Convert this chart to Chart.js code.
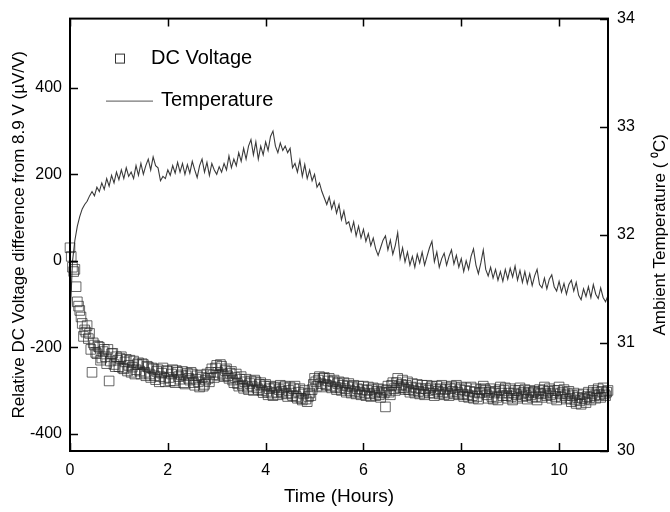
<!DOCTYPE html>
<html>
<head>
<meta charset="utf-8">
<script src="https://cdn.jsdelivr.net/npm/chart.js@4.4.1/dist/chart.umd.min.js"></script>
<style>
  html, body { margin: 0; padding: 0; background: #fff; }
  #chart { display: block; }
</style>
</head>
<body>
<canvas id="chart" width="670" height="512"></canvas>
<script>
// samples every 0.05 h, 0 .. 11 h
const step = 0.05;

// DC voltage, µV/V relative to 8.9 V, at 0, 0.05, 0.10 ... h
const voltage = [
  30, -15, -20, -95, -115, -145, -160, -150, -168, -258,
  -195, -215, -200, -225, -205, -238, -278, -215, -240, -222,
  -245, -222, -250, -228, -242, -258, -232, -252, -236, -262,
  -240, -266, -246, -270, -250, -275, -252, -268, -248, -280,
  -256, -278, -252, -282, -258, -274, -256, -285, -260, -276,
  -262, -288, -266, -292, -270, -286, -262, -280, -250, -270,
  -242, -265, -244, -268, -250, -272, -256, -282, -262, -290,
  -268, -295, -274, -298, -278, -300, -280, -298, -282, -305,
  -286, -310, -290, -312, -292, -310, -288, -306, -290, -314,
  -292, -312, -290, -318, -296, -322, -300, -326, -306, -298,
  -272, -290, -268, -292, -270, -288, -272, -294, -276, -298,
  -280, -300, -282, -304, -284, -306, -288, -308, -290, -310,
  -290, -312, -292, -314, -294, -312, -296, -316, -298, -338,
  -290, -310, -282, -300, -272, -294, -276, -298, -280, -304,
  -284, -306, -286, -308, -288, -310, -288, -306, -290, -312,
  -290, -308, -288, -310, -292, -312, -290, -308, -288, -310,
  -292, -314, -294, -316, -292, -318, -296, -320, -298, -290,
  -300, -318, -296, -320, -302, -322, -292, -312, -294, -318,
  -296, -322, -300, -318, -294, -314, -298, -320, -300, -316,
  -302, -322, -298, -316, -292, -312, -296, -318, -300, -322,
  -292, -316, -298, -320, -302, -326, -306, -330, -310, -332,
  -308, -328, -304, -322, -300, -318, -296, -316, -294, -312,
  -300
];

// DC voltage at the in-between samples 0.025, 0.075 ... h
const voltageMid = [
  10, -25, -60, -105, -130, -175, -165, -180, -205, -190,
  -212, -198, -230, -210, -222, -205, -232, -214, -245, -230,
  -226, -248, -234, -255, -230, -246, -262, -240, -255, -238,
  -258, -244, -262, -248, -266, -256, -280, -260, -272, -254,
  -270, -262, -278, -254, -268, -264, -282, -266, -272, -258,
  -282, -274, -280, -264, -290, -276, -272, -258, -264, -248,
  -258, -240, -262, -254, -266, -260, -276, -270, -284, -274,
  -288, -280, -292, -284, -290, -276, -294, -286, -300, -290,
  -302, -296, -306, -294, -304, -298, -302, -294, -308, -300,
  -306, -296, -314, -304, -318, -308, -320, -314, -312, -286,
  -280, -276, -284, -272, -286, -278, -290, -280, -292, -284,
  -294, -288, -296, -290, -300, -292, -302, -296, -304, -298,
  -306, -300, -308, -298, -306, -302, -310, -304, -306, -300,
  -304, -288, -296, -282, -290, -286, -294, -288, -298, -292,
  -300, -294, -302, -296, -304, -296, -300, -294, -306, -298,
  -302, -296, -304, -298, -306, -296, -302, -294, -304, -298,
  -308, -300, -310, -302, -312, -304, -314, -306, -304, -296,
  -310, -304, -314, -306, -316, -298, -306, -300, -312, -306,
  -314, -306, -310, -300, -308, -304, -312, -306, -310, -304,
  -314, -306, -308, -300, -306, -302, -310, -306, -314, -300,
  -308, -304, -312, -308, -318, -312, -322, -316, -324, -318,
  -320, -314, -316, -308, -312, -304, -310, -302, -308, -304
];

// ambient temperature, °C, at 0, 0.05, 0.10 ... h
const temperature = [
  31.20, 31.75, 31.95, 32.08, 32.17, 32.24, 32.28, 32.31, 32.36, 32.40,
  32.36, 32.44, 32.40, 32.48, 32.42, 32.52, 32.45, 32.55, 32.48, 32.58,
  32.51, 32.60, 32.52, 32.62, 32.54, 32.58, 32.52, 32.64, 32.55, 32.66,
  32.56, 32.64, 32.70, 32.60, 32.72, 32.64, 32.62, 32.50, 32.54, 32.52,
  32.60, 32.55, 32.64, 32.57, 32.67, 32.58, 32.66, 32.56, 32.65, 32.57,
  32.68, 32.60, 32.53, 32.64, 32.70, 32.58, 32.67, 32.55, 32.66, 32.60,
  32.56, 32.63, 32.58, 32.66, 32.60, 32.73, 32.62, 32.70, 32.64, 32.76,
  32.68, 32.80, 32.70, 32.82, 32.88, 32.74, 32.86, 32.70, 32.82, 32.74,
  32.86, 32.78, 32.91, 32.96, 32.82, 32.76, 32.85, 32.78, 32.82, 32.76,
  32.80, 32.62, 32.66, 32.58, 32.69, 32.54, 32.65, 32.52, 32.60, 32.50,
  32.56, 32.44, 32.48, 32.40, 32.34, 32.28, 32.35, 32.24, 32.31, 32.20,
  32.28, 32.14, 32.22, 32.10, 32.12, 32.03, 32.12, 31.99, 32.08, 31.97,
  32.05, 31.94, 32.01, 31.90, 31.97, 31.87, 31.81, 31.88, 31.95, 31.99,
  31.86, 31.95, 31.82, 31.90, 32.02, 31.78, 31.88, 31.75, 31.84, 31.72,
  31.80, 31.70, 31.82, 31.74, 31.84, 31.72, 31.80, 31.88, 31.94, 31.75,
  31.84, 31.70, 31.78, 31.83, 31.72, 31.80, 31.86, 31.73, 31.81, 31.70,
  31.78, 31.66, 31.76, 31.68, 31.80, 31.87, 31.72, 31.64, 31.74, 31.86,
  31.68, 31.62, 31.70, 31.60, 31.68, 31.58, 31.66, 31.57, 31.68, 31.59,
  31.69, 31.61, 31.71, 31.58, 31.67, 31.56, 31.66, 31.55, 31.64, 31.53,
  31.62, 31.68, 31.54, 31.51, 31.60, 31.50, 31.59, 31.63, 31.52, 31.48,
  31.57, 31.47, 31.55, 31.45, 31.54, 31.58, 31.48, 31.56, 31.44, 31.40,
  31.50, 31.43, 31.52, 31.42, 31.54, 31.45, 31.41, 31.51, 31.42, 31.38,
  31.44
];

const xTicks = [0, 2, 4, 6, 8, 10];
const yTicks = [-400, -200, 0, 200, 400];
const y1Ticks = [30, 31, 32, 33, 34];
const legendLabels = ['DC Voltage', 'Temperature'];
const rightTitle = 'Ambient Temperature ( \u2070C)';

const FONT = 'Liberation Sans, Arial, sans-serif';

const frame = {
  id: 'frame',
  afterDatasetsDraw(chart) {
    const { ctx, chartArea: a, scales } = chart;
    ctx.save();
    ctx.strokeStyle = '#000';
    ctx.lineWidth = 2;
    ctx.strokeRect(a.left, a.top, a.right - a.left, a.bottom - a.top);
    ctx.lineWidth = 1.5;
    ctx.beginPath();
    xTicks.forEach(v => {
      const px = Math.round(scales.x.getPixelForValue(v)) + 0.5;
      ctx.moveTo(px, a.bottom); ctx.lineTo(px, a.bottom - 8);
      ctx.moveTo(px, a.top); ctx.lineTo(px, a.top + 8);
    });
    yTicks.forEach(v => {
      const py = Math.round(scales.y.getPixelForValue(v)) + 0.5;
      ctx.moveTo(a.left, py); ctx.lineTo(a.left + 8, py);
    });
    y1Ticks.forEach(v => {
      const py = Math.round(scales.y1.getPixelForValue(v)) + 0.5;
      ctx.moveTo(a.right, py); ctx.lineTo(a.right - 8, py);
    });
    ctx.stroke();

    // legend
    ctx.font = '20px ' + FONT;
    ctx.fillStyle = '#000';
    ctx.textBaseline = 'middle';
    ctx.lineWidth = 1;
    ctx.strokeStyle = '#333';
    ctx.strokeRect(a.left + 45.5, a.top + 35.5, 9, 9);
    ctx.fillText(legendLabels[0], a.left + 81, a.top + 40);
    ctx.strokeStyle = '#555';
    ctx.beginPath();
    ctx.moveTo(a.left + 36, a.top + 82.5);
    ctx.lineTo(a.left + 83, a.top + 82.5);
    ctx.stroke();
    ctx.fillText(legendLabels[1], a.left + 91, a.top + 82);

    // right axis title, read bottom to top
    ctx.font = '17px ' + FONT;
    ctx.textAlign = 'center';
    ctx.translate(chart.width - 10, (a.top + a.bottom) / 2);
    ctx.rotate(-Math.PI / 2);
    ctx.fillText(rightTitle, 0, 0);
    ctx.restore();
  }
};

const hours = voltage.map((_, i) => +(i * step).toFixed(3));
const voltagePoints = hours.map((h, i) => ({ x: h, y: voltage[i] }))
  .concat(voltageMid.map((v, i) => ({ x: +(i * step + step / 2).toFixed(3), y: v })))
  .sort((p, q) => p.x - q.x);

new Chart(document.getElementById('chart').getContext('2d'), {
  type: 'scatter',
  data: {
    datasets: [
      {
        label: legendLabels[0],
        data: voltagePoints,
        yAxisID: 'y',
        showLine: false,
        pointStyle: 'rect',
        pointRadius: 6.8,
        pointBorderWidth: 1,
        pointBorderColor: 'rgba(40,40,40,0.7)',
        pointBackgroundColor: 'rgba(0,0,0,0)',
        clip: 6
      },
      {
        label: legendLabels[1],
        data: temperature.map((t, i) => ({ x: hours[i], y: t })),
        yAxisID: 'y1',
        showLine: true,
        borderColor: '#3a3a3a',
        borderWidth: 1.1,
        pointRadius: 0,
        tension: 0
      }
    ]
  },
  options: {
    responsive: false,
    animation: false,
    layout: { padding: { top: 15, left: 0, right: 0, bottom: 0 } },
    plugins: { legend: { display: false }, tooltip: { enabled: false } },
    scales: {
      x: {
        type: 'linear', min: 0, max: 11,
        afterBuildTicks: s => { s.ticks = xTicks.map(v => ({ value: v })); },
        afterFit: s => { s.height = 61; },
        grid: { display: false, drawTicks: false },
        border: { display: false },
        ticks: { color: '#000', font: { family: FONT, size: 16 }, padding: 10, maxRotation: 0 },
        title: { display: true, text: 'Time (Hours)', color: '#000', font: { family: FONT, size: 19 }, padding: { top: 4 } }
      },
      y: {
        type: 'linear', position: 'left', min: -440, max: 560,
        afterBuildTicks: s => { s.ticks = yTicks.map(v => ({ value: v })); },
        afterFit: s => { s.width = 70; },
        grid: { display: false, drawTicks: false },
        border: { display: false },
        ticks: { color: '#000', font: { family: FONT, size: 16 }, padding: 8 },
        title: { display: true, text: 'Relative DC Voltage difference from 8.9 V (\u00b5V/V)', color: '#000', font: { family: FONT, size: 17 }, padding: { top: 9, bottom: 0 } }
      },
      y1: {
        type: 'linear', position: 'right', min: 30, max: 34,
        afterBuildTicks: s => { s.ticks = y1Ticks.map(v => ({ value: v })); },
        afterFit: s => { s.width = 62; },
        grid: { display: false, drawTicks: false },
        border: { display: false },
        ticks: { color: '#000', font: { family: FONT, size: 16 }, padding: 9 },
        title: { display: false }
      }
    }
  },
  plugins: [frame]
});
</script>
</body>
</html>
